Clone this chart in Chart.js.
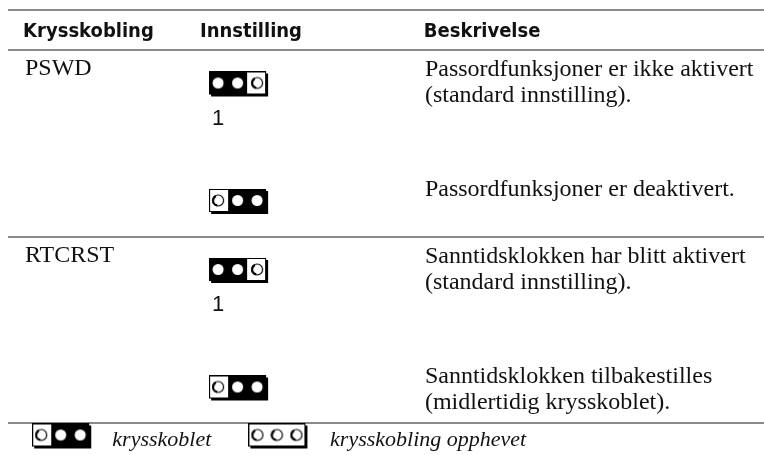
<!DOCTYPE html>
<html>
<head>
<meta charset="utf-8">
<script src="https://cdn.jsdelivr.net/npm/chart.js@4.4.1/dist/chart.umd.min.js"></script>
<style>
  body { margin: 0; background: #fff; }
  #jumperTable { display: block; }
</style>
</head>
<body>
<canvas id="jumperTable" width="764" height="455"></canvas>
<script>
// Table data
const headers = ['Krysskobling', 'Innstilling', 'Beskrivelse'];
const jumperNames = ['PSWD', 'RTCRST'];
const settingsPerJumper = [2, 2];
// one entry per setting row
const shortedPins = [[1, 2], [2, 3], [1, 2], [2, 3]];
const pinMarks = ['1', '', '1', ''];
const descriptions = [
    ['Passordfunksjoner er ikke aktivert', '(standard innstilling).'],
    ['Passordfunksjoner er deaktivert.'],
    ['Sanntidsklokken har blitt aktivert', '(standard innstilling).'],
    ['Sanntidsklokken tilbakestilles', '(midlertidig krysskoblet).']
];
const legendPins = [[2, 3], []];
const legendLabels = ['krysskoblet', 'krysskobling opphevet'];

// Layout / style (x in % of table width, y in row units)
const COL_X = [2.0, 25.4, 55.0];
const HEADER_H = 0.43;
const ICON_Y = [0.38, 0.64];
const DESC_Y = [0.28, 0.57];
const NAME_Y = 0.27;
const MARK_Y = 0.80;
const LINE_H = 26;
const LEGEND_ICON_X = [7.3, 35.9];
const LEGEND_TEXT_X = [13.8, 42.6];

const SERIF = '"Liberation Serif", "DejaVu Serif", serif';
const HEAD_FONT = 'bold 20px "DejaVu Sans Condensed", "Liberation Sans", sans-serif';

function makeJumperIcon(pins) {
    const c = document.createElement('canvas');
    c.width = 62;
    c.height = 28;
    const g = c.getContext('2d');
    const w = 57, h = 23;
    // drop shadow
    g.fillStyle = '#000';
    g.fillRect(2, 2, w, h);
    g.fillStyle = '#fff';
    g.fillRect(0, 0, w, h);
    g.strokeStyle = '#000';
    g.lineWidth = 1;
    g.strokeRect(0.5, 0.5, w - 1, h - 1);
    const cx = [9, 28.5, 48];
    if (pins.length) {
        const a = cx[pins[0] - 1], b = cx[pins[1] - 1];
        const x0 = pins[0] === 1 ? 0 : (cx[pins[0] - 2] + a) / 2;
        const x1 = pins[1] === 3 ? w : (b + cx[pins[1]]) / 2;
        g.fillStyle = '#000';
        g.fillRect(Math.round(x0), 0, Math.round(x1 - x0), h);
    }
    cx.forEach((x, i) => {
        const on = pins.includes(i + 1);
        g.beginPath();
        g.arc(x, 11.5, 5.5, 0, Math.PI * 2);
        g.fillStyle = '#fff';
        g.fill();
        if (!on) {
            g.lineWidth = 1.2;
            g.strokeStyle = '#000';
            g.stroke();
            g.beginPath();
            g.arc(x, 11.5, 5, 0.55 * Math.PI, 1.35 * Math.PI);
            g.lineWidth = 2.2;
            g.stroke();
        }
    });
    return c;
}

// row index of each setting, and first row of each jumper
const jumperStart = [];
let acc = 0;
settingsPerJumper.forEach(n => { jumperStart.push(acc); acc += n; });
const totalRows = acc;
const ruleValues = [-HEADER_H, 0].concat(settingsPerJumper.map((n, i) => jumperStart[i] + n));

const settingPoints = [];
const settingIcons = [];
const settingIndex = [];
settingsPerJumper.forEach((n, j) => {
    for (let k = 0; k < n; k++) {
        const r = jumperStart[j] + k;
        settingPoints.push({ x: COL_X[1] + 5.3, y: r + ICON_Y[k] });
        settingIcons.push(makeJumperIcon(shortedPins[r]));
        settingIndex.push(k);
    }
});

const legendPoints = legendPins.map((p, i) => ({ x: LEGEND_ICON_X[i], y: totalRows + 0.155 }));
const legendIcons = legendPins.map(p => makeJumperIcon(p));

const tableText = {
    id: 'tableText',
    afterDatasetsDraw(chart) {
        const ctx = chart.ctx;
        const xs = chart.scales.x, ys = chart.scales.y;
        const px = v => xs.getPixelForValue(v);
        const py = v => ys.getPixelForValue(v);
        ctx.save();
        ctx.fillStyle = '#111';
        ctx.textBaseline = 'alphabetic';
        ctx.textAlign = 'left';

        ctx.font = HEAD_FONT;
        headers.forEach((t, i) => ctx.fillText(t, px(COL_X[i]), py(-HEADER_H * 0.325)));

        ctx.font = '24px ' + SERIF;
        jumperNames.forEach((t, j) => ctx.fillText(t, px(COL_X[0] + 0.25), py(jumperStart[j] + NAME_Y)));

        descriptions.forEach((lines, r) => {
            const base = py(r + DESC_Y[settingIndex[r]]);
            lines.forEach((t, l) => ctx.fillText(t, px(COL_X[2] + 0.15), base + l * LINE_H));
        });

        ctx.font = '22px "Liberation Sans", Arial, sans-serif';
        pinMarks.forEach((t, r) => {
            if (t) ctx.fillText(t, px(COL_X[1] + 1.6), py(r + MARK_Y));
        });

        ctx.font = 'italic 22px ' + SERIF;
        legendLabels.forEach((t, i) => ctx.fillText(t, px(LEGEND_TEXT_X[i]), py(totalRows + 0.25)));
        ctx.restore();
    }
};

document.addEventListener('DOMContentLoaded', function() {
    const ctx = document.getElementById('jumperTable').getContext('2d');
    new Chart(ctx, {
        type: 'scatter',
        data: {
            datasets: [
                {
                    label: 'Innstilling',
                    data: settingPoints,
                    pointStyle: c => settingIcons[c.dataIndex],
                    pointRadius: 3
                },
                {
                    label: 'Forklaring',
                    data: legendPoints,
                    pointStyle: c => legendIcons[c.dataIndex],
                    pointRadius: 3
                }
            ]
        },
        options: {
            responsive: false,
            animation: false,
            devicePixelRatio: 1,
            layout: { autoPadding: false, padding: { left: 8, right: 0, top: 0, bottom: 0 } },
            plugins: {
                legend: { display: false },
                tooltip: { enabled: false }
            },
            events: [],
            scales: {
                x: { type: 'linear', min: 0, max: 100, display: false },
                y: {
                    type: 'linear',
                    reverse: true,
                    min: -0.537,
                    max: 4.343,
                    ticks: { display: false },
                    border: { display: false },
                    grid: { color: '#8a8a8a', lineWidth: 2, drawTicks: false },
                    afterBuildTicks: s => { s.ticks = ruleValues.map(v => ({ value: v })); },
                    afterFit: s => { s.width = 0; }
                }
            }
        },
        plugins: [tableText]
    });
});
</script>
</body>
</html>
